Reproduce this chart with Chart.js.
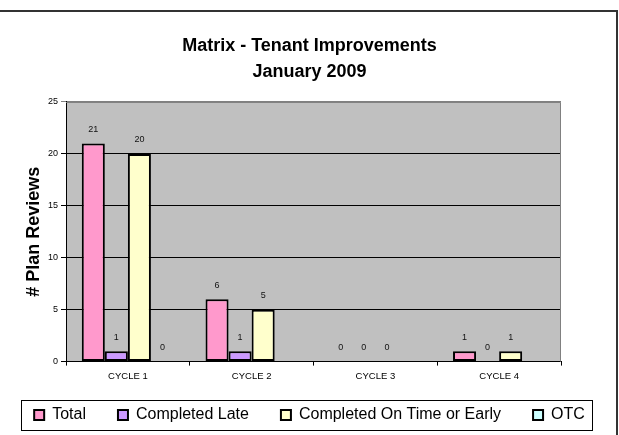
<!DOCTYPE html>
<html>
<head>
<meta charset="utf-8">
<script src="https://cdn.jsdelivr.net/npm/chart.js@4/dist/chart.umd.min.js"></script>
<style>
  html, body { margin: 0; padding: 0; background: #fff; }
  #wrap { position: relative; width: 619px; height: 435px; overflow: hidden; }
  #frame { position: absolute; left: 0; top: 10px; width: 618px; height: 430px;
           border-top: 2px solid #333; border-right: 2px solid #333; box-sizing: border-box; pointer-events: none; }
  canvas { position: absolute; left: 0; top: 0; }
</style>
</head>
<body>
<div id="wrap">
  <canvas id="c" width="619" height="435"></canvas>
  <div id="frame"></div>
</div>
<script>
const categories = ['CYCLE 1', 'CYCLE 2', 'CYCLE 3', 'CYCLE 4'];
const totalValues = [21, 6, 0, 1];
const lateValues = [1, 1, 0, 0];
const onTimeValues = [20, 5, 0, 1];
const otcValues = [0, null, null, null];
const titleLines = ['Matrix - Tenant Improvements', 'January 2009'];
const yTicks = [0, 5, 10, 15, 20, 25];

const FONT = "'Liberation Sans', Arial, sans-serif";

const bgPlugin = {
  id: 'plotBg',
  afterLayout(chart) {
    // pull the legend up a little so it sits where the reference has it
    const lg = chart.legend;
    if (lg) { lg.top -= 12; lg.bottom -= 12; }
  },
  beforeDraw(chart) {
    const a = chart.chartArea, ctx = chart.ctx;
    ctx.save();
    ctx.fillStyle = '#C0C0C0';
    ctx.fillRect(a.left, a.top, a.right - a.left, a.bottom - a.top);
    ctx.restore();
  },
  beforeDatasetsDraw(chart) {
    const a = chart.chartArea, ctx = chart.ctx;
    ctx.save();
    ctx.strokeStyle = '#808080';
    ctx.lineWidth = 1;
    ctx.beginPath();
    ctx.moveTo(a.left, a.top + 0.5);
    ctx.lineTo(a.right - 0.5, a.top + 0.5);
    ctx.lineTo(a.right - 0.5, a.bottom);
    ctx.stroke();
    ctx.restore();
  }
};

const labelPlugin = {
  id: 'valueLabels',
  afterDatasetsDraw(chart) {
    const ctx = chart.ctx;
    ctx.save();
    ctx.font = '9px ' + FONT;
    ctx.fillStyle = '#111';
    ctx.textAlign = 'center';
    ctx.textBaseline = 'middle';
    chart.data.datasets.forEach((ds, i) => {
      const meta = chart.getDatasetMeta(i);
      meta.data.forEach((el, j) => {
        const v = ds.data[j];
        if (v === null || v === undefined) return;
        ctx.fillText(String(v), el.x, el.y - 14);
      });
    });
    ctx.restore();
  }
};

const legendFramePlugin = {
  id: 'legendFrame',
  afterDraw(chart) {
    const lg = chart.legend;
    if (!lg || !lg.legendHitBoxes || !lg.legendHitBoxes.length) return;
    const hb = lg.legendHitBoxes;
    let l = Infinity, r = -Infinity, t = Infinity, b = -Infinity;
    hb.forEach(h => {
      l = Math.min(l, h.left); r = Math.max(r, h.left + h.width);
      t = Math.min(t, h.top); b = Math.max(b, h.top + h.height);
    });
    const ctx = chart.ctx;
    ctx.save();
    ctx.strokeStyle = '#000';
    ctx.lineWidth = 1;
    const x0 = Math.round(l - 13), x1 = Math.round(r + 7);
    ctx.strokeRect(x0 + 0.5, Math.round(t - 7) + 0.5, x1 - x0, Math.round(b - t + 14));
    ctx.restore();
  }
};

new Chart(document.getElementById('c'), {
  type: 'bar',
  data: {
    labels: categories,
    datasets: [
      { label: 'Total', data: totalValues, backgroundColor: '#FF99CC' },
      { label: 'Completed Late', data: lateValues, backgroundColor: '#CC99FF' },
      { label: 'Completed On Time or Early', data: onTimeValues, backgroundColor: '#FFFFCC' },
      { label: 'OTC', data: otcValues, backgroundColor: '#CCFFFF' }
    ].map(d => Object.assign(d, { borderColor: '#000', borderWidth: 2, borderSkipped: false, yAxisID: 'y' }))
  },
  options: {
    responsive: false,
    animation: false,
    events: [],
    categoryPercentage: 0.745,
    barPercentage: 1.0,
    layout: { padding: { left: 0, right: 0, top: 0, bottom: -10 } },
    plugins: {
      title: {
        display: true,
        text: titleLines,
        color: '#000',
        font: { family: FONT, size: 18, weight: 'bold', lineHeight: 1.444 },
        padding: { top: 33, bottom: 17 }
      },
      legend: {
        display: true,
        position: 'bottom',
        labels: {
          color: '#000',
          font: { family: FONT, size: 16 },
          boxWidth: 10,
          boxHeight: 10,
          padding: 32,
          generateLabels(chart) {
            return chart.data.datasets.map((ds, i) => ({
              text: ds.label,
              fillStyle: ds.backgroundColor,
              strokeStyle: '#000',
              lineWidth: 2,
              hidden: false,
              datasetIndex: i
            }));
          }
        }
      },
      tooltip: { enabled: false }
    },
    scales: {
      x: {
        grid: { display: true, offset: true, drawOnChartArea: false, drawTicks: true, tickLength: 4, color: '#000' },
        border: { display: true, color: '#000', width: 1 },
        ticks: { color: '#000', font: { family: FONT, size: 9.5 }, padding: 5, maxRotation: 0 }
      },
      y: {
        position: 'left',
        min: 0, max: 25,
        afterBuildTicks(s) { s.ticks = yTicks.map(v => ({ value: v })); },
        grid: {
          color: ctx => (ctx.tick && ctx.tick.value === 25) ? '#808080' : '#000',
          lineWidth: 1, tickLength: 5, drawTicks: true
        },
        border: { display: true, color: '#000', width: 1 },
        ticks: { color: '#000', font: { family: FONT, size: 9 }, padding: 3 },
        title: {
          display: true,
          text: '# Plan Reviews',
          color: '#000',
          font: { family: FONT, size: 18, weight: 'bold' },
          padding: { top: 23, bottom: 0 }
        },
        afterFit(s) { s.width = 66; }
      },
      ySpacer: {
        type: 'linear',
        position: 'right',
        display: true,
        grid: { display: false, drawOnChartArea: false },
        border: { display: false },
        ticks: { display: false },
        afterFit(s) { s.width = 58; }
      }
    }
  },
  plugins: [bgPlugin, labelPlugin, legendFramePlugin]
});
</script>
</body>
</html>
